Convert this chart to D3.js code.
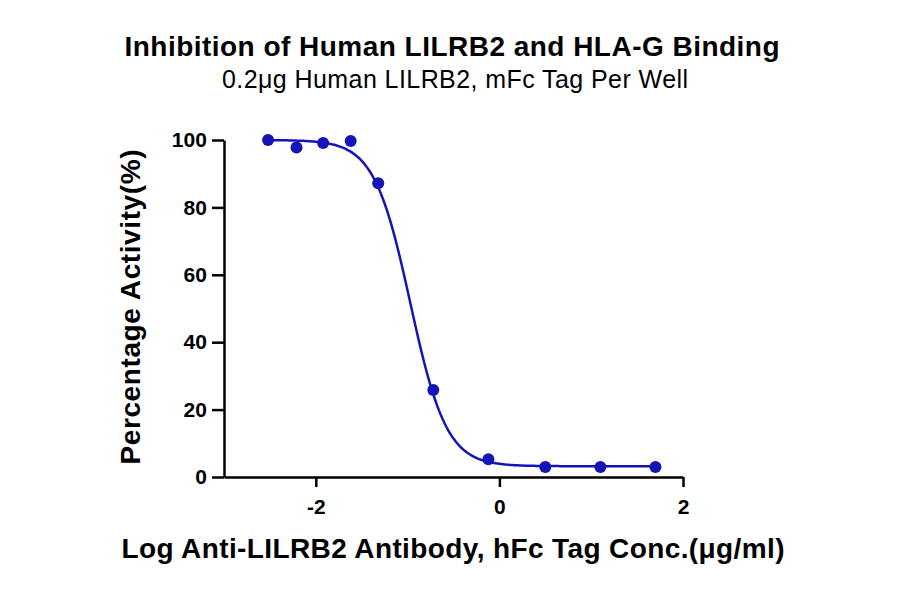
<!DOCTYPE html>
<html><head><meta charset="utf-8">
<script src="https://cdn.jsdelivr.net/npm/d3@7"></script>
<style>body{margin:0;background:#fff}</style></head>
<body><svg id="c" width="900" height="594"></svg>
<script>
const logConc = [-2.52,-2.21,-1.92,-1.62,-1.32,-0.72,-0.12,0.50,1.10,1.70];
const activity = [100,97.8,99.1,99.7,87.2,25.8,5.3,3.0,3.0,3.0];
const fit = {top:100, bottom:3.2, logIC50:-0.97, hill:2.2};
const xTicks = [-2,0,2];
const yTicks = [0,20,40,60,80,100];
const color = "#1414b8";

const svg = d3.select("#c");
const x = d3.scaleLinear().domain([-3,2]).range([224,683]);
const y = d3.scaleLinear().domain([0,100]).range([477,140]);
const f = "Arial, 'Liberation Sans', sans-serif";

svg.append("text").attr("x",452).attr("y",56).attr("text-anchor","middle")
 .attr("font-family",f).attr("font-weight","bold").attr("font-size",28).attr("textLength",655).text("Inhibition of Human LILRB2 and HLA-G Binding");
svg.append("text").attr("x",455).attr("y",88).attr("text-anchor","middle")
 .attr("font-family",f).attr("font-size",25).attr("textLength",466).text("0.2μg Human LILRB2, mFc Tag Per Well");

const xa = svg.append("g").attr("transform","translate(0,477)")
 .call(d3.axisBottom(x).tickValues(xTicks).tickSize(10).tickSizeOuter(0).tickFormat(d=>d<0?"-"+Math.abs(d):d));
const ya = svg.append("g").attr("transform","translate(224,0)")
 .call(d3.axisLeft(y).tickValues(yTicks).tickSize(12).tickSizeOuter(0));
[xa,ya].forEach(a=>{a.selectAll("path,line").attr("stroke","#000").attr("stroke-width",2.5);
 a.selectAll("text").attr("font-family",f).attr("font-weight","bold").attr("font-size",21).attr("fill","#000");});
xa.selectAll("text").attr("dy","1.15em");
ya.selectAll("text").attr("dx","-0.1em");

svg.append("text").attr("x",453).attr("y",558).attr("text-anchor","middle")
 .attr("font-family",f).attr("font-weight","bold").attr("font-size",28).attr("textLength",663).text("Log Anti-LILRB2 Antibody, hFc Tag Conc.(μg/ml)");
svg.append("text").attr("transform","translate(140,307) rotate(-90)").attr("text-anchor","middle")
 .attr("font-family",f).attr("font-weight","bold").attr("font-size",28).attr("textLength",315).text("Percentage Activity(%)");

const model = t => fit.bottom + (fit.top-fit.bottom)/(1+Math.pow(10,fit.hill*(t-fit.logIC50)));
const xs = d3.range(logConc[0], logConc[logConc.length-1]+0.001, 0.02);
svg.append("path").datum(xs).attr("fill","none").attr("stroke",color).attr("stroke-width",2.5)
 .attr("d",d3.line().x(d=>x(d)).y(d=>y(model(d))));
svg.selectAll("circle.p").data(logConc).join("circle").attr("class","p")
 .attr("cx",d=>x(d)).attr("cy",(d,i)=>y(activity[i])).attr("r",6).attr("fill",color);
</script></body></html>
